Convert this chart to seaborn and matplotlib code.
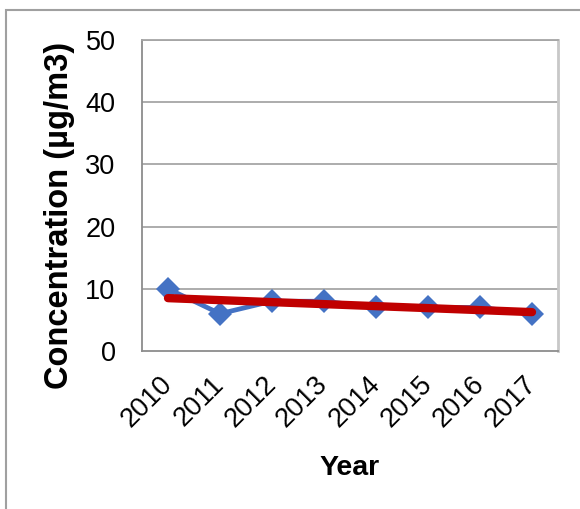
import numpy as np
import pandas as pd
import matplotlib
matplotlib.use("Agg")
import matplotlib.pyplot as plt
from matplotlib.patches import Rectangle
import seaborn as sns

# Annual mean concentration values
years = ["2010", "2011", "2012", "2013", "2014", "2015", "2016", "2017"]
concentration = [10, 6, 8, 8, 7, 7, 7, 6]
y_ticks = [0, 10, 20, 30, 40, 50]

sns.set_style("white")
plt.rcParams["font.family"] = ["Liberation Sans", "DejaVu Sans"]
plt.rcParams["text.color"] = "black"
plt.rcParams["xtick.labelcolor"] = "black"
plt.rcParams["ytick.labelcolor"] = "black"

df = pd.DataFrame({"pos": np.arange(len(years)), "year": years, "value": concentration})

W, H = 580, 509
fig = plt.figure(figsize=(W / 100, H / 100), dpi=100)
ax = fig.add_axes([142 / W, 1 - 351 / H, (558 - 142) / W, (351 - 40) / H])

grid_c = "#A6A6A6"
axis_c = "#8C8C8C"

# Data series
sns.lineplot(data=df, x="pos", y="value", ax=ax, color="#4472C4", linewidth=3.4,
             marker="D", markersize=12.5, markeredgewidth=0, zorder=3)

# Linear trendline through the series
coef = np.polyfit(df["pos"], df["value"], 1)
trend = np.polyval(coef, df["pos"])
sns.lineplot(x=df["pos"], y=trend, ax=ax, color="#C00000", linewidth=6,
             solid_capstyle="round", zorder=4)

ax.set_xlim(-0.5, len(years) - 0.5)
ax.set_ylim(0, 50)
ax.set_yticks(y_ticks)
ax.set_yticklabels([str(v) for v in y_ticks], fontsize=19.5, color="black")

# Category tick marks sit between categories; labels sit at category centres
ax.set_xticks(np.arange(len(years) + 1) - 0.5)
ax.set_xticklabels([""] * (len(years) + 1))
ax.set_xticks(np.arange(len(years)), minor=True)
ax.set_xticklabels(years, minor=True, fontsize=19.5, rotation=45, color="black",
                   ha="right", va="center", rotation_mode="anchor")
ax.tick_params(axis="x", which="minor", length=0, pad=21)
ax.tick_params(axis="x", which="major", length=7, width=1.2, color=axis_c, direction="out")
ax.tick_params(axis="y", length=7, width=1.2, color=axis_c, direction="out", pad=12)

for v in y_ticks[1:]:
    ax.axhline(v, color=grid_c, linewidth=1.3, zorder=1)
ax.grid(False)

for side in ["left", "bottom"]:
    ax.spines[side].set_color(axis_c)
    ax.spines[side].set_linewidth(1.3)
ax.spines["top"].set_color(grid_c)
ax.spines["top"].set_linewidth(1.3)
ax.spines["right"].set_color("#C8C8C8")
ax.spines["right"].set_linewidth(2)

ax.set_xlabel("")
ax.set_ylabel("")
fig.text(60 / W, 1 - 215 / H, "Concentration (µg/m3)", rotation=90, color="black",
         ha="center", va="center", fontsize=23.5, fontweight="bold")
fig.text(350 / W, 1 - 475 / H, "Year", ha="center", va="baseline", color="black",
         fontsize=20.5, fontweight="bold")

# Chart frame
fig.patches.append(Rectangle((6 / W, -0.1), 1.2, 1 - 10 / H + 0.1,
                             transform=fig.transFigure, fill=False,
                             edgecolor="#A0A0A0", linewidth=1.5, zorder=0))

fig.savefig("out.png", dpi=100)
